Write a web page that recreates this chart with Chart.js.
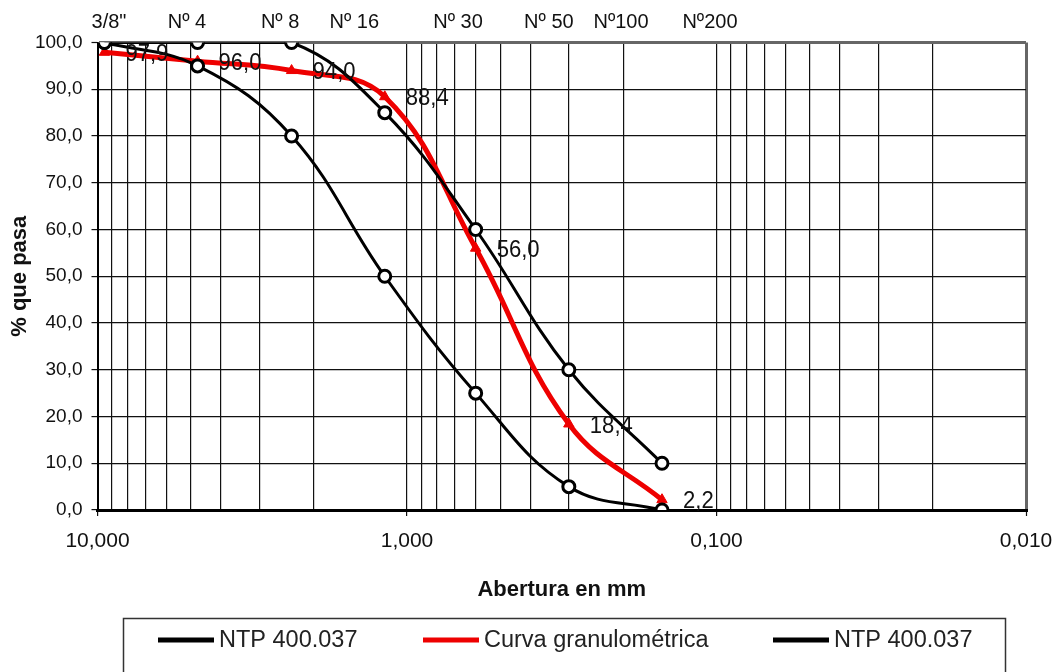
<!DOCTYPE html>
<html>
<head>
<meta charset="utf-8">
<script src="https://cdn.jsdelivr.net/npm/chart.js@4.4.1/dist/chart.umd.min.js"></script>
<style>
  html, body { margin: 0; padding: 0; background: #ffffff; }
  #wrap { width: 1061px; height: 672px; position: relative; }
</style>
</head>
<body>
<div id="wrap"><canvas id="c" width="1061" height="672"></canvas></div>
<script>
// ---- data ----
const sieveSizes = [9.5, 4.75, 2.36, 1.18, 0.6, 0.3, 0.15];      // mm
const ntpLower   = [100, 95, 80, 50, 25, 5, 0];
const curva      = [97.9, 96.0, 94.0, 88.4, 56.0, 18.4, 2.2];
const ntpUpper   = [100, 100, 100, 85, 60, 30, 10];

const seriesNames = ['NTP 400.037', 'Curva granulométrica', 'NTP 400.037'];

const sieveNames    = ['3/8"', 'Nº 4', 'Nº 8', 'Nº 16', 'Nº 30', 'Nº 50', 'Nº100', 'Nº200'];
const sieveLabelAt  = [9.18, 5.14, 2.57, 1.48, 0.684, 0.348, 0.2035, 0.105];

const xMajorTicks  = [10, 1, 0.1, 0.01];
const xMajorLabels = ['10,000', '1,000', '0,100', '0,010'];

const FONT = "'Liberation Sans', Arial, sans-serif";

function pts(xs, ys) { return xs.map((x, i) => ({ x: x, y: ys[i] })); }
function isVal(a, b) { return Math.abs(a - b) / b < 1e-6; }
function fmtComma(v, d) { return v.toFixed(d).replace('.', ','); }

const circleStyle = {
  borderColor: '#000000',
  borderWidth: 3,
  pointStyle: 'circle',
  pointRadius: 6,
  pointBackgroundColor: '#ffffff',
  pointBorderColor: '#000000',
  pointBorderWidth: 3,
  tension: 0.4,
  fill: false,
  order: 0
};

const datasets = [
  Object.assign({ label: seriesNames[0], data: pts(sieveSizes, ntpLower) }, circleStyle),
  {
    label: seriesNames[1], data: pts(sieveSizes, curva),
    borderColor: '#ee0000', borderWidth: 5,
    pointStyle: 'triangle', pointRadius: 6,
    pointBackgroundColor: '#ee0000', pointBorderColor: '#ee0000', pointBorderWidth: 1,
    tension: 0.4, fill: false, order: 1, showValues: true
  },
  Object.assign({ label: seriesNames[2], data: pts(sieveSizes, ntpUpper) }, circleStyle)
];

const valueLabels = {
  id: 'valueLabels',
  afterDatasetsDraw(chart) {
    const ctx = chart.ctx;
    chart.data.datasets.forEach((ds, di) => {
      if (!ds.showValues) return;
      const meta = chart.getDatasetMeta(di);
      meta.data.forEach((el, i) => {
        ctx.save();
        ctx.translate(el.x + 21, el.y + 2);
        ctx.scale(0.92, 1);
        ctx.font = '24px ' + FONT;
        ctx.fillStyle = '#111111';
        ctx.textAlign = 'left';
        ctx.textBaseline = 'middle';
        ctx.fillText(fmtComma(ds.data[i].y, 1), 0, 0);
        ctx.restore();
      });
    });
  }
};

const boxLegend = {
  id: 'boxLegend',
  afterDraw(chart) {
    const ctx = chart.ctx;
    ctx.save();
    ctx.strokeStyle = '#333333';
    ctx.lineWidth = 1.5;
    ctx.strokeRect(123.5, 618.5, 882, 80);
    const starts = [158, 423, 773];
    const y = 640;
    ctx.font = '23.5px ' + FONT;
    ctx.textBaseline = 'middle';
    ctx.textAlign = 'left';
    chart.data.datasets.forEach((ds, i) => {
      const x0 = starts[i];
      ctx.fillStyle = ds.borderColor;
      ctx.fillRect(x0, y - 2.5, 56, 5);
      ctx.fillStyle = '#222222';
      ctx.fillText(ds.label, x0 + 61, y + 1);
    });
    ctx.restore();
  }
};

new Chart(document.getElementById('c'), {
  type: 'line',
  data: { datasets: datasets },
  plugins: [valueLabels, boxLegend],
  options: {
    responsive: false,
    animation: false,
    devicePixelRatio: 1,
    layout: { padding: { left: 0, right: 35, top: 0, bottom: 0 } },
    plugins: { legend: { display: false }, tooltip: { enabled: false } },
    scales: {
      x: {
        type: 'logarithmic', position: 'bottom', reverse: true,
        min: 0.01, max: 10,
        afterBuildTicks(s) {
          const t = [];
          for (let e = -2; e <= 1; e++) {
            for (let m = 1; m <= 9; m++) {
              const v = m * Math.pow(10, e);
              if (v > 10.0001) continue;
              t.push({ value: v, major: m === 1 });
            }
          }
          s.ticks = t;
        },
        afterFit(s) { s.height = 162; },
        ticks: {
          autoSkip: false, maxRotation: 0, minRotation: 0, padding: 13,
          color: '#111111', font: { family: FONT, size: 21 },
          callback(v) {
            const i = xMajorTicks.findIndex(m => isVal(v, m));
            return i >= 0 ? xMajorLabels[i] : '';
          }
        },
        grid: {
          color: c => (c.tick && isVal(c.tick.value, 0.01)) ? '#666666' : '#111111',
          lineWidth: c => (c.tick && isVal(c.tick.value, 0.01)) ? 3 : 1.2,
          tickColor: c => (c.tick && xMajorTicks.some(m => isVal(c.tick.value, m))) ? '#111111' : 'rgba(0,0,0,0)',
          tickLength: 6, tickWidth: 1.2
        },
        border: { color: '#000000', width: 3 },
        title: {
          display: true, text: 'Abertura en mm', color: '#111111',
          font: { family: FONT, size: 22, weight: 'bold', lineHeight: 1.2 },
          padding: { top: 0, bottom: 69 }
        }
      },
      xTop: {
        type: 'logarithmic', position: 'top', reverse: true,
        min: 0.01, max: 10,
        afterBuildTicks(s) { s.ticks = sieveLabelAt.map(v => ({ value: v })); },
        afterFit(s) { s.height = 42.5; },
        ticks: {
          autoSkip: false, maxRotation: 0, minRotation: 0, padding: 8,
          color: '#111111', font: { family: FONT, size: 20 },
          callback(v, i) { return sieveNames[i]; }
        },
        grid: { display: false, drawTicks: false },
        border: { display: false }
      },
      y: {
        type: 'linear', position: 'left', min: 0, max: 100,
        afterFit(s) { s.width = 97.5; },
        ticks: {
          stepSize: 10, padding: 9, color: '#111111',
          font: { family: FONT, size: 19 },
          callback: v => fmtComma(v, 1)
        },
        grid: {
          color: c => (c.tick && c.tick.value === 100) ? '#666666' : '#111111',
          lineWidth: c => (c.tick && c.tick.value === 100) ? 3 : 1.2,
          tickColor: '#111111', tickLength: 6, tickWidth: 1.2
        },
        border: { color: '#000000', width: 2 },
        title: {
          display: true, text: '% que pasa', color: '#111111',
          font: { family: FONT, size: 22, weight: 'bold', lineHeight: 1.2 },
          padding: { top: 7, bottom: 0 }
        }
      }
    }
  }
});
</script>
</body>
</html>
